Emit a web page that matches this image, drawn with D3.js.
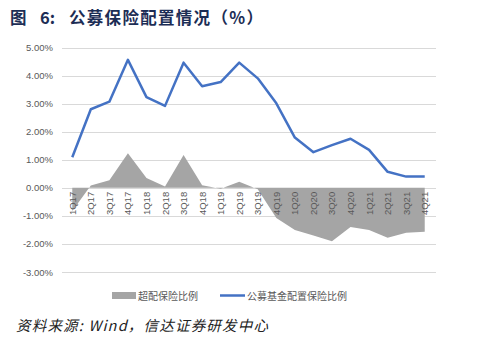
<!DOCTYPE html>
<html>
<head>
<meta charset="utf-8">
<script src="https://cdn.jsdelivr.net/npm/d3@7"></script>
<style>
  body { margin: 0; background: #fff; }
  svg { display: block; }
</style>
</head>
<body>
<div id="chart"></div>
<script>
// 季度
const quarters = ["1Q17","2Q17","3Q17","4Q17","1Q18","2Q18","3Q18","4Q18","1Q19","2Q19","3Q19",
  "4Q19","1Q20","2Q20","3Q20","4Q20","1Q21","2Q21","3Q21","4Q21"];
// 超配保险比例 (%)
const overweight = [-0.83, 0.08, 0.27, 1.23, 0.35, 0.05, 1.17, 0.09, -0.03, 0.22, -0.05,
  -1.08, -1.5, -1.7, -1.9, -1.4, -1.5, -1.78, -1.6, -1.57];
// 公募基金配置保险比例 (%)
const fundAlloc = [1.09, 2.80, 3.07, 4.56, 3.23, 2.92, 4.46, 3.62, 3.77, 4.46, 3.90,
  3.01, 1.79, 1.27, 1.52, 1.75, 1.35, 0.57, 0.40, 0.40];
const yTicks = [5, 4, 3, 2, 1, 0, -1, -2, -3];

const width = 481, height = 352;
const svg = d3.select("#chart").append("svg")
  .attr("width", width)
  .attr("height", height);

// 标题
const title = svg.append("g")
  .attr("font-family", "'Noto Sans CJK SC', sans-serif")
  .attr("font-size", "16.5px")
  .attr("font-weight", "bold")
  .attr("fill", "#1c2d55");
title.append("text").attr("x", 10).attr("y", 24).text("图");
title.append("text").attr("x", 40).attr("y", 24).text("6:");
title.append("text").attr("x", 69).attr("y", 24)
  .attr("letter-spacing", "1.3px")
  .text("公募保险配置情况（%）");

const x = d3.scalePoint()
  .domain(quarters)
  .range([63, 434])
  .padding(0.5);

const y = d3.scaleLinear()
  .domain([-3, 5])
  .range([272, 47.5]);

// 网格线
svg.append("g")
  .selectAll("line")
  .data(yTicks)
  .join("line")
  .attr("x1", 62)
  .attr("x2", 436)
  .attr("y1", d => Math.round(y(d)) + 0.5)
  .attr("y2", d => Math.round(y(d)) + 0.5)
  .attr("stroke", "#d9d9d9")
  .attr("stroke-width", 1);

// y 轴标签
svg.append("g")
  .selectAll("text")
  .data(yTicks)
  .join("text")
  .attr("x", 53)
  .attr("y", d => y(d) + 3.5)
  .attr("text-anchor", "end")
  .attr("font-family", "'Liberation Sans', Arial, sans-serif")
  .attr("font-size", "9.5px")
  .attr("fill", "#595959")
  .text(d => d.toFixed(2) + "%");

// 面积：超配保险比例
const area = d3.area()
  .x((d, i) => x(quarters[i]))
  .y0(y(0))
  .y1(d => y(d));

svg.append("path")
  .datum(overweight)
  .attr("d", area)
  .attr("fill", "#a5a5a5");

// x 轴标签（竖排）
svg.append("g")
  .selectAll("text")
  .data(quarters)
  .join("text")
  .attr("transform", d => `translate(${x(d) + 3.5},${y(0) + 4}) rotate(-90)`)
  .attr("text-anchor", "end")
  .attr("font-family", "'Liberation Sans', Arial, sans-serif")
  .attr("font-size", "9.5px")
  .attr("fill", "#595959")
  .text(d => d);

// 折线：公募基金配置保险比例
const line = d3.line()
  .x((d, i) => x(quarters[i]))
  .y(d => y(d));

svg.append("path")
  .datum(fundAlloc)
  .attr("d", line)
  .attr("fill", "none")
  .attr("stroke", "#4472c4")
  .attr("stroke-width", 2.5)
  .attr("stroke-linejoin", "round");

// 图例
const legend = svg.append("g")
  .attr("font-family", "'Noto Sans CJK SC', sans-serif")
  .attr("font-size", "10px")
  .attr("fill", "#595959");

legend.append("rect")
  .attr("x", 112)
  .attr("y", 292)
  .attr("width", 24)
  .attr("height", 7)
  .attr("fill", "#a5a5a5");

legend.append("text")
  .attr("x", 138)
  .attr("y", 299.5)
  .text("超配保险比例");

legend.append("line")
  .attr("x1", 220)
  .attr("x2", 245)
  .attr("y1", 295.5)
  .attr("y2", 295.5)
  .attr("stroke", "#4472c4")
  .attr("stroke-width", 2.5);

legend.append("text")
  .attr("x", 247)
  .attr("y", 299.5)
  .text("公募基金配置保险比例");

// 资料来源
svg.append("text")
  .attr("x", 16)
  .attr("y", 331)
  .attr("font-family", "'Noto Sans CJK SC', sans-serif")
  .attr("font-size", "14.5px")
  .attr("letter-spacing", "1.2px")
  .attr("font-style", "italic")
  .attr("fill", "#222")
  .text("资料来源: Wind，信达证券研发中心");
</script>
</body>
</html>
